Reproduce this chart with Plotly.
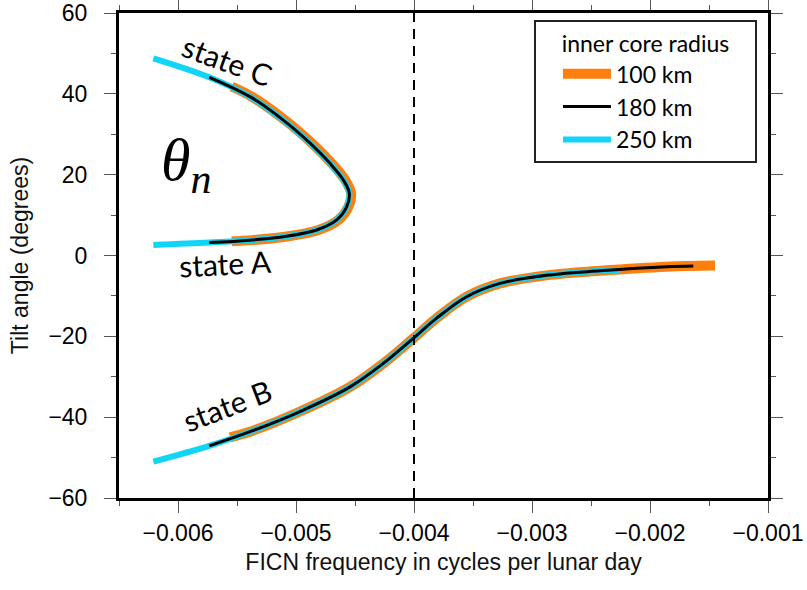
import plotly.graph_objects as go

# ---------------- data ----------------
# upper branch: state C -> nose -> state A ; lower branch: state B -> right
r250_upper_x = [-0.006209, -0.005735, -0.005390, -0.005108, -0.004881, -0.004712, -0.004599,
                -0.004548, -0.004570, -0.004655, -0.004825, -0.005108, -0.005390, -0.005735, -0.006209]
r250_upper_y = [48.8, 44.1, 39.3, 33.5, 27.8, 22.8, 18.7, 15.4, 12.1, 8.8, 6.3, 4.65, 3.8, 3.2, 2.6]
r250_lower_x = [-0.006209, -0.005735, -0.005390, -0.004966, -0.004542, -0.004260, -0.004006,
                -0.003808, -0.003554, -0.003271, -0.002847, -0.002424, -0.002254]
r250_lower_y = [-51.0, -47.1, -43.6, -38.6, -32.5, -26.7, -20.5, -15.5, -10.2, -6.9, -4.8, -3.8, -3.6]

r180_upper_x = [-0.005735, -0.005390, -0.005108, -0.004881, -0.004712, -0.004599, -0.004548,
                -0.004570, -0.004655, -0.004825, -0.005108, -0.005390, -0.005735]
r180_upper_y = [44.1, 39.3, 33.5, 27.8, 22.8, 18.7, 15.4, 12.1, 8.8, 6.3, 4.65, 3.8, 3.2]
r180_lower_x = [-0.005735, -0.005390, -0.004966, -0.004542, -0.004260, -0.004006, -0.003808,
                -0.003554, -0.003271, -0.002847, -0.002424, -0.001859, -0.001633]
r180_lower_y = [-47.1, -43.6, -38.6, -32.5, -26.7, -20.5, -15.5, -10.2, -6.9, -4.8, -3.8, -2.8, -2.6]

r100_upper_x = [-0.005545, -0.005375, -0.005093, -0.004866, -0.004697, -0.004584, -0.004533,
                -0.004555, -0.004640, -0.004810, -0.005093, -0.005375, -0.005545]
r100_upper_y = [41.8, 39.3, 33.5, 27.8, 22.8, 18.7, 15.4, 12.1, 8.8, 6.3, 4.65, 3.8, 3.5]
r100_lower_x = [-0.005559, -0.005390, -0.004966, -0.004542, -0.004260, -0.004006, -0.003808,
                -0.003554, -0.003271, -0.002847, -0.002424, -0.001859, -0.001449]
r100_lower_y = [-45.0, -43.6, -38.6, -32.5, -26.7, -20.5, -15.5, -10.2, -6.9, -4.8, -3.8, -2.8, -2.5]

series_names = ["100 km", "180 km", "250 km"]
x_ticks = [-0.006, -0.005, -0.004, -0.003, -0.002, -0.001]
x_tick_text = ["\u22120.006", "\u22120.005", "\u22120.004", "\u22120.003", "\u22120.002", "\u22120.001"]
y_ticks = [-60, -40, -20, 0, 20, 40, 60]
y_tick_text = ["\u221260", "\u221240", "\u221220", "0", "20", "40", "60"]
reference_freq = -0.004

# ---------------- figure ----------------
ORANGE = "#ff7f0e"
CYAN = "#12d4f7"
BLACK = "#000000"

fig = go.Figure()

def add_series(ux, uy, lx, ly, name, color, width, rank):
    fig.add_trace(go.Scatter(
        x=ux + [None] + lx, y=uy + [None] + ly, mode="lines", name=name,
        line=dict(color=color, width=width, shape="spline", smoothing=1.0),
        connectgaps=False, legendrank=rank,
    ))

add_series(r100_upper_x, r100_upper_y, r100_lower_x, r100_lower_y, series_names[0], ORANGE, 10, 1)
add_series(r250_upper_x, r250_upper_y, r250_lower_x, r250_lower_y, series_names[2], CYAN, 6, 3)
add_series(r180_upper_x, r180_upper_y, r180_lower_x, r180_lower_y, series_names[1], BLACK, 3, 2)

fig.add_shape(type="line", x0=reference_freq, x1=reference_freq, y0=-60, y1=60,
              xref="x", yref="y", line=dict(color="black", width=2, dash="10px,7px"))

label_font = dict(family="Lato, 'Open Sans', sans-serif", size=30, color="black")
fig.add_annotation(x=-0.005584, y=48.3, text="state C", showarrow=False, textangle=20, font=label_font)
fig.add_annotation(x=-0.005600, y=-1.9, text="state A", showarrow=False, textangle=-3, font=label_font)
fig.add_annotation(x=-0.005584, y=-36.9, text="state B", showarrow=False, textangle=-21, font=label_font)
fig.add_annotation(x=-0.005932, y=22.5, text="<i>\u03b8<sub>n</sub></i>", showarrow=False,
                   font=dict(family="Liberation Serif, serif", size=60, color="black"))

axis_common = dict(
    showline=True, linewidth=3, linecolor="black", mirror="allticks",
    ticks="outside", ticklen=12, tickwidth=1, tickcolor="#555",
    showgrid=False, zeroline=False, automargin=False,
    tickfont=dict(family="Liberation Sans, Arial, sans-serif", size=23, color="black"),
)

fig.update_xaxes(
    range=[-0.0065, -0.001], tickvals=x_ticks, ticktext=x_tick_text,
    minor=dict(dtick=0.0005, tick0=-0.0065, ticks="outside", ticklen=5, tickcolor="#555", showgrid=False),
    title=dict(text="FICN frequency in cycles per lunar day", standoff=10,
               font=dict(family="Liberation Sans, Arial, sans-serif", size=23, color="#111")),
    ticklabelstandoff=0,
    **axis_common,
)
fig.update_yaxes(
    range=[-60, 60], tickvals=y_ticks, ticktext=y_tick_text,
    minor=dict(dtick=10, tick0=-60, ticks="outside", ticklen=5, tickcolor="#555", showgrid=False),
    title=dict(text="Tilt angle (degrees)", standoff=14,
               font=dict(family="Liberation Sans, Arial, sans-serif", size=23, color="#111")),
    ticklabelstandoff=12,
    **axis_common,
)

fig.update_layout(
    width=807, height=590,
    margin=dict(l=119, r=39, t=13, b=92),
    paper_bgcolor="white", plot_bgcolor="white",
    legend=dict(
        x=0.983, y=0.985, xanchor="right", yanchor="top",
        bgcolor="white", bordercolor="#222", borderwidth=2,
        font=dict(family="Lato, 'Open Sans', sans-serif", size=23, color="black"),
        title=dict(text="&nbsp;&nbsp;&nbsp;&nbsp;inner core radius&nbsp;&nbsp;&nbsp;&nbsp;", side="top center",
                   font=dict(family="Lato, 'Open Sans', sans-serif", size=23, color="black")),
        itemwidth=48, tracegroupgap=0, indentation=22,
    ),
    showlegend=True,
)

fig.write_html("out.html", config={"displayModeBar": False},
               post_script="document.body.style.margin='0px';")
